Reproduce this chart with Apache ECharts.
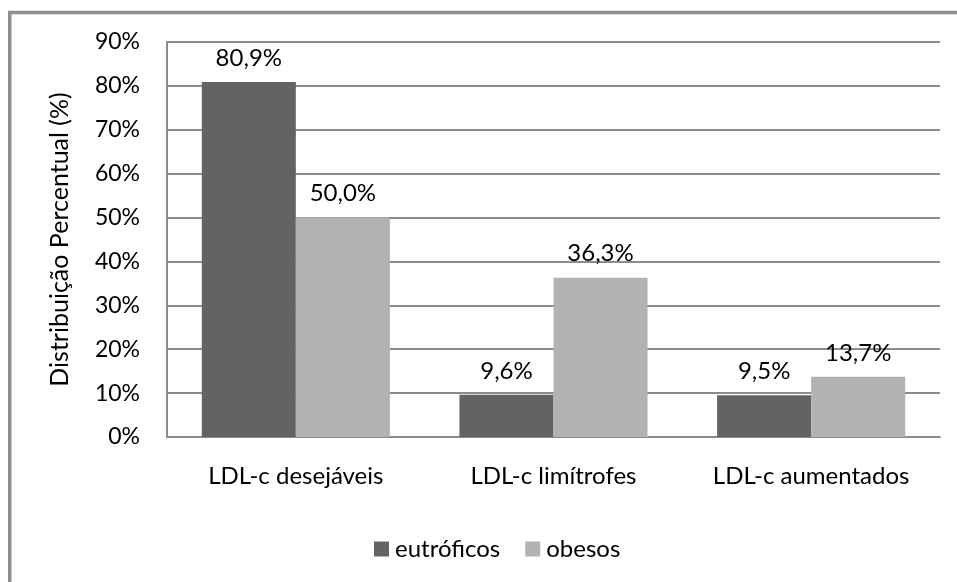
<!DOCTYPE html>
<html>
<head>
<meta charset="utf-8">
<script src="https://cdn.jsdelivr.net/npm/echarts@6/dist/echarts.min.js"></script>
<style>
  html, body { margin: 0; padding: 0; background: #fff; }
  #chart { width: 957px; height: 582px; }
</style>
</head>
<body>
<div id="chart"></div>
<script>
// LDL-c groups and percentage distribution per nutritional status
const categories = ['LDL-c desejáveis', 'LDL-c limítrofes', 'LDL-c aumentados'];
const seriesNames = ['eutróficos', 'obesos'];
const eutroficos = [80.9, 9.6, 9.5];
const obesos = [50.0, 36.3, 13.7];
const yTicks = { min: 0, max: 90, interval: 10 };

const FONT = 'Lato';
const pct = v => v.toFixed(1).replace('.', ',') + '%';

const chart = echarts.init(document.getElementById('chart'), null, { renderer: 'canvas' });

const labelStyle = {
  show: true,
  position: 'top',
  distance: 12,
  color: '#000',
  fontFamily: FONT,
  fontSize: 24,
  formatter: p => pct(p.value)
};

chart.setOption({
  backgroundColor: '#fff',
  animation: false,
  textStyle: { fontFamily: FONT, color: '#000' },
  graphic: [{
    type: 'rect',
    shape: { x: 9.75, y: 12.5, width: 1200, height: 1200 },
    style: { fill: 'none', stroke: '#8f8f8f', lineWidth: 3.5 },
    z: -1
  }],
  grid: { left: 167, right: 17, top: 42, bottom: 145, containLabel: false },
  legend: {
    data: seriesNames,
    left: 369,
    top: 532,
    itemWidth: 15,
    itemHeight: 15,
    itemGap: 25,
    icon: 'rect',
    textStyle: { fontFamily: FONT, fontSize: 24, color: '#000', padding: [0, 0, 0, 1] }
  },
  xAxis: {
    type: 'category',
    data: categories,
    axisLine: { show: true, lineStyle: { color: '#8c8c8c', width: 2 } },
    axisTick: { show: false },
    axisLabel: { margin: 27, fontFamily: FONT, fontSize: 24, color: '#000' }
  },
  yAxis: {
    type: 'value',
    min: yTicks.min,
    max: yTicks.max,
    interval: yTicks.interval,
    name: 'Distribuição Percentual (%)',
    nameLocation: 'middle',
    nameGap: 95,
    nameRotate: 90,
    nameTextStyle: { fontFamily: FONT, fontSize: 25, color: '#000' },
    axisLine: { show: true, lineStyle: { color: '#8c8c8c', width: 2 } },
    axisTick: { show: false },
    axisLabel: { margin: 27, fontFamily: FONT, fontSize: 23, color: '#000', formatter: '{value}%' },
    splitLine: { show: true, lineStyle: { color: '#8c8c8c', width: 2 } }
  },
  series: [
    {
      name: seriesNames[0],
      type: 'bar',
      data: eutroficos,
      barGap: '0%',
      barCategoryGap: '27%',
      itemStyle: { color: '#636363' },
      label: labelStyle
    },
    {
      name: seriesNames[1],
      type: 'bar',
      data: obesos,
      barGap: '0%',
      barCategoryGap: '27%',
      itemStyle: { color: '#b2b2b2' },
      label: labelStyle
    }
  ]
});
</script>
</body>
</html>
